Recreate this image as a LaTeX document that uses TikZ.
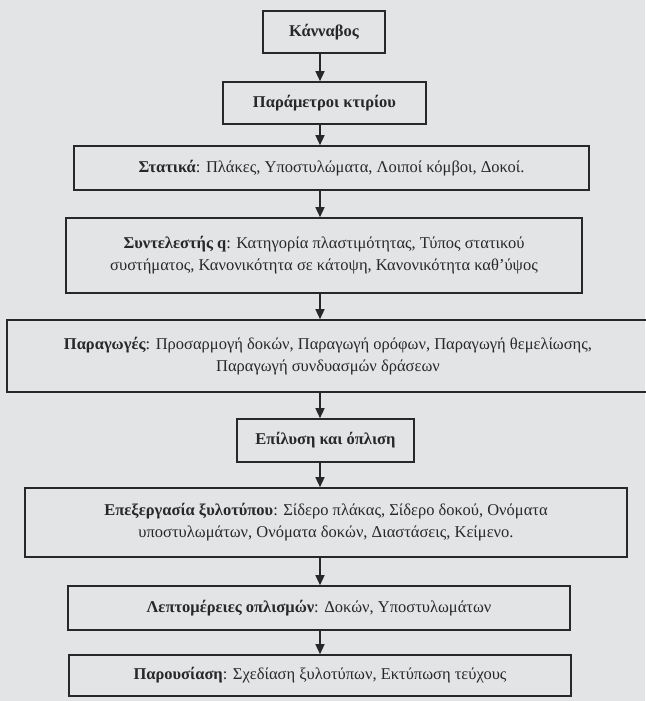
\documentclass[tikz,border=0pt]{standalone}
\usepackage{fontspec}
\setmainfont{Liberation Serif}
\usetikzlibrary{arrows.meta}
\definecolor{bg}{RGB}{226,228,230}
\definecolor{ink}{RGB}{40,40,40}
\begin{document}
\begin{tikzpicture}[x=1pt,y=-1pt,
  box/.style={draw=ink, line width=1.6pt, rectangle, inner sep=0pt, text=ink,
    font=\fontsize{16.5}{22}\selectfont, align=center},
  arr/.style={draw=ink, line width=1.4pt, -{Triangle[length=10pt,width=9pt]}}]
\fill[bg] (0,0) rectangle (645,701);
\useasboundingbox (0,0) rectangle (645,701);
\coordinate (ax) at (320,0);
\node[box, minimum width=122pt, minimum height=42pt] (n1) at (324,32) {\textbf{Κάνναβος}};
\node[box, minimum width=203pt, minimum height=42pt] (n2) at (324.5,103) {\textbf{Παράμετροι κτιρίου}};
\node[box, minimum width=515pt, minimum height=44pt] (n3) at (331.5,168) {\textbf{Στατικά}: Πλάκες, Υποστυλώματα, Λοιποί κόμβοι, Δοκοί.};
\node[box, minimum width=516pt, minimum height=75pt] (n4) at (324,255.5) {\textbf{Συντελεστής q}: Κατηγορία πλαστιμότητας, Τύπος στατικού\\ συστήματος, Κανονικότητα σε κάτοψη, Κανονικότητα καθ’ύψος};
\node[box, minimum width=642pt, minimum height=72pt] (n5) at (328,356) {\textbf{Παραγωγές}: Προσαρμογή δοκών, Παραγωγή ορόφων, Παραγωγή θεμελίωσης,\\ Παραγωγή συνδυασμών δράσεων};
\node[box, minimum width=177pt, minimum height=43pt] (n6) at (325.5,440.5) {\textbf{Επίλυση και όπλιση}};
\node[box, minimum width=602pt, minimum height=69pt] (n7) at (326,522.5) {\textbf{Επεξεργασία ξυλοτύπου}: Σίδερο πλάκας, Σίδερο δοκού, Ονόματα\\ υποστυλωμάτων, Ονόματα δοκών, Διαστάσεις, Κείμενο.};
\node[box, minimum width=502pt, minimum height=44pt] (n8) at (319,608) {\textbf{Λεπτομέρειες οπλισμών}: Δοκών, Υποστυλωμάτων};
\node[box, minimum width=502pt, minimum height=41pt] (n9) at (320,675.5) {\textbf{Παρουσίαση}: Σχεδίαση ξυλοτύπων, Εκτύπωση τεύχους};
\foreach \a/\b in {n1/n2,n2/n3,n3/n4,n4/n5,n5/n6,n6/n7,n7/n8,n8/n9}
  \draw[arr] (\a.south -| ax) -- (\b.north -| ax);
\end{tikzpicture}
\end{document}
